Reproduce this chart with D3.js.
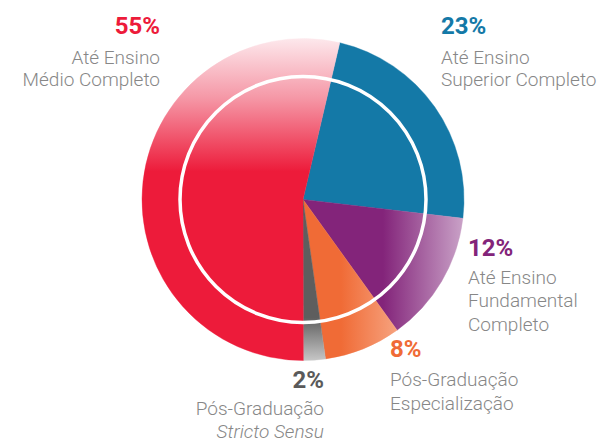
<!DOCTYPE html>
<html>
<head>
<meta charset="utf-8">
<script src="https://cdn.jsdelivr.net/npm/d3@7"></script>
<style>
  html, body { margin: 0; padding: 0; background: #fff; }
  svg { display: block; font-family: Roboto, "Open Sans", sans-serif; }
</style>
</head>
<body>
<svg class="chart" width="597" height="441"></svg>
<script>
// data, clockwise from the top
var categories = ["superior", "fundamental", "especializacao", "stricto", "medio"];
var percentLabels = [23, 12, 8, 2, 55];
// sweep of each slice as drawn in the picture (% of the circle)
var arcShares = [23.2, 13.2, 7.7, 2.2, 53.7];
var labelLines = [
  ["Até Ensino", "Superior Completo"],
  ["Até Ensino", "Fundamental", "Completo"],
  ["Pós-Graduação", "Especialização"],
  ["Pós-Graduação", "Stricto Sensu"],
  ["Até Ensino", "Médio Completo"]
];

var colors = {
  superior: "#1479a7",
  fundamental: "#83247a",
  especializacao: "#f06b36",
  stricto: "#5a5a5a",
  medio: "#ed1b3a"
};

// label anchors (absolute px): percentage baseline, first line offset, line height
var labelPos = {
  superior:       {x: 441, y: 34, anchor: "start", dy: 29.5, lh: 22.5},
  fundamental:    {x: 468, y: 256, anchor: "start", dy: 27.5, lh: 23.5},
  especializacao: {x: 390, y: 357, anchor: "start", dy: 28.5, lh: 24},
  stricto:        {x: 324, y: 388, anchor: "end", dy: 27, lh: 22.5},
  medio:          {x: 160, y: 34, anchor: "end", dy: 29.5, lh: 22.5}
};

var svg = d3.select("svg.chart"),
    cx = 303, cy = 199.5,
    radius = 161,
    ringRadius = 123,
    g = svg.append("g").attr("transform", "translate(" + cx + "," + cy + ")");

var defs = svg.append("defs");

function gradient(id, x1, y1, x2, y2, stops) {
  var lg = defs.append("linearGradient")
      .attr("id", id)
      .attr("gradientUnits", "userSpaceOnUse")
      .attr("x1", x1).attr("y1", y1)
      .attr("x2", x2).attr("y2", y2);
  lg.selectAll("stop")
    .data(stops)
    .enter().append("stop")
      .attr("offset", function(d) { return d[0]; })
      .attr("stop-color", function(d) { return d[1]; });
}

// coordinates relative to the pie centre
gradient("g-medio", 0, -161, 0, -28, [[0, "#fde8ec"], [0.45, "#f597a6"], [1, "#ed1b3a"]]);
gradient("g-fundamental", 80, 0, 161, 0, [[0, "#83247a"], [1, "#caa3c8"]]);
gradient("g-especializacao", 38, 0, 100, 0, [[0, "#f06b36"], [1, "#f7a886"]]);
gradient("g-stricto", 0, 118, 0, 162, [[0, "#5e5e5e"], [1, "#c9c9c9"]]);

var fills = {
  superior: colors.superior,
  fundamental: "url(#g-fundamental)",
  especializacao: "url(#g-especializacao)",
  stricto: "url(#g-stricto)",
  medio: "url(#g-medio)"
};

var data = categories.map(function(c, i) {
  return {key: c, share: arcShares[i], pct: percentLabels[i], lines: labelLines[i]};
});

var start = 13.2 * Math.PI / 180;
var pie = d3.pie()
    .sort(null)
    .value(function(d) { return d.share; })
    .startAngle(start)
    .endAngle(start + 2 * Math.PI);

var arc = d3.arc().innerRadius(0).outerRadius(radius);

g.append("g")
  .selectAll("path")
  .data(pie(data))
  .enter().append("path")
    .attr("d", arc)
    .attr("fill", function(d) { return fills[d.data.key]; })
    .attr("stroke", function(d) { return fills[d.data.key]; })
    .attr("stroke-width", 0.4);

g.append("circle")
    .attr("r", ringRadius)
    .attr("fill", "none")
    .attr("stroke", "#fff")
    .attr("stroke-width", 3.5);

// labels
var labels = svg.append("g")
  .selectAll("g")
  .data(data)
  .enter().append("g")
    .attr("transform", function(d) { var p = labelPos[d.key]; return "translate(" + p.x + "," + p.y + ")"; })
    .attr("text-anchor", function(d) { return labelPos[d.key].anchor; });

labels.append("text")
    .attr("font-size", 24)
    .attr("font-weight", "bold")
    .attr("fill", function(d) { return colors[d.key]; })
    .text(function(d) { return d.pct + "%"; });

labels.each(function(d) {
  var p = labelPos[d.key];
  d3.select(this).selectAll("text.line")
    .data(d.lines)
    .enter().append("text")
      .attr("class", "line")
      .attr("y", function(l, i) { return p.dy + i * p.lh; })
      .attr("font-size", 19)
      .attr("font-weight", 300)
      .attr("fill", "#878787")
      .attr("font-style", function(l) { return l === "Stricto Sensu" ? "italic" : null; })
      .text(function(l) { return l; });
});
</script>
</body>
</html>
